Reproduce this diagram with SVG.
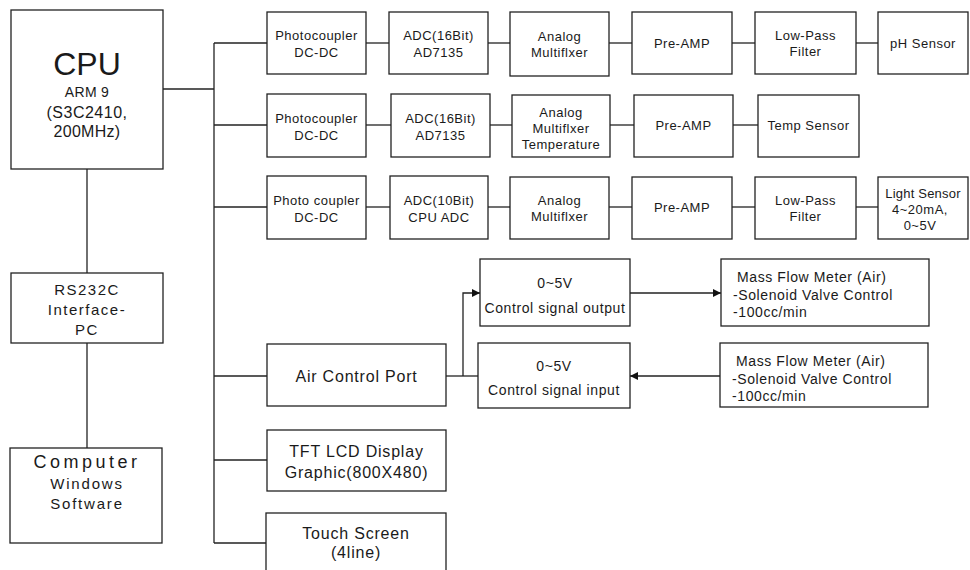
<svg xmlns="http://www.w3.org/2000/svg" width="970" height="570" viewBox="0 0 970 570">
<defs>
<marker id="arr" viewBox="0 0 10 10" refX="10" refY="5" markerWidth="9" markerHeight="8" markerUnits="userSpaceOnUse" orient="auto">
<path d="M0,0 L10,5 L0,10 z" fill="#111"/>
</marker>
<style>
rect{fill:#fff;stroke:#222;stroke-width:1.3}
.c line,.c path{stroke:#222;stroke-width:1.3;fill:none}
text{font-family:"Liberation Sans",Arial,sans-serif;fill:#1a1a1a;text-anchor:middle}
.s{font-size:13px;letter-spacing:0.5px}
.m{font-size:14px;letter-spacing:0.6px}
.l{font-size:16px;letter-spacing:0.8px}
.lt{text-anchor:start}
</style>
</defs>
<rect x="0" y="0" width="970" height="570" style="fill:#fff;stroke:none"/>
<g class="c" id="connectors">
<line x1="163" y1="89" x2="214" y2="89"/>
<line x1="214" y1="43" x2="214" y2="543"/>
<line x1="214" y1="43" x2="267" y2="43"/>
<line x1="214" y1="125" x2="267" y2="125"/>
<line x1="214" y1="207" x2="267" y2="207"/>
<line x1="214" y1="376" x2="267" y2="376"/>
<line x1="214" y1="460" x2="267" y2="460"/>
<line x1="214" y1="543" x2="266" y2="543"/>
<line x1="87" y1="169" x2="87" y2="273"/>
<line x1="87" y1="343" x2="87" y2="448"/>
<line x1="366" y1="43" x2="389" y2="43"/>
<line x1="488" y1="43" x2="510" y2="43"/>
<line x1="609" y1="43" x2="632" y2="43"/>
<line x1="732" y1="43" x2="755" y2="43"/>
<line x1="856" y1="43" x2="878" y2="43"/>
<line x1="366" y1="125" x2="391" y2="125"/>
<line x1="490" y1="125" x2="512" y2="125"/>
<line x1="610" y1="125" x2="634" y2="125"/>
<line x1="733" y1="125" x2="758" y2="125"/>
<line x1="366" y1="207" x2="390" y2="207"/>
<line x1="488" y1="207" x2="510" y2="207"/>
<line x1="609" y1="207" x2="632" y2="207"/>
<line x1="732" y1="207" x2="755" y2="207"/>
<line x1="856" y1="207" x2="878" y2="207"/>
<line x1="446" y1="376" x2="478" y2="376"/>
<path d="M463,376 V293 H480" marker-end="url(#arr)"/>
<line x1="630" y1="293" x2="721" y2="293" marker-end="url(#arr)"/>
<line x1="720" y1="376" x2="630" y2="376" marker-end="url(#arr)"/>
</g>
<g id="cpu"><rect x="11" y="10" width="152" height="159"/>
<text x="87" y="75" style="font-size:32px">CPU</text>
<text x="87" y="97" style="font-size:14px;letter-spacing:0.3px">ARM 9</text>
<text x="87" y="118" style="font-size:16px;letter-spacing:0.5px">(S3C2410,</text>
<text x="87" y="137" style="font-size:16px;letter-spacing:0.3px">200MHz)</text></g>
<g id="rs232c"><rect x="11" y="273" width="152" height="70"/>
<text x="87" y="295" style="font-size:15px;letter-spacing:1.5px">RS232C</text>
<text x="87" y="315" style="font-size:15px;letter-spacing:1.5px">Interface-</text>
<text x="87" y="335" style="font-size:15px;letter-spacing:1.5px">PC</text></g>
<g id="computer"><rect x="10" y="448" width="152" height="95"/>
<text x="87" y="468" style="font-size:18px;letter-spacing:3.5px">Computer</text>
<text x="87" y="489" style="font-size:15px;letter-spacing:1.8px">Windows</text>
<text x="87" y="509" style="font-size:15px;letter-spacing:1.8px">Software</text></g>

<g id="pc1"><rect x="267" y="12" width="99" height="62"/>
<text class="s" x="316.5" y="40">Photocoupler</text><text class="s" x="316.5" y="57">DC-DC</text></g>
<g id="adc1"><rect x="389" y="12" width="99" height="62"/>
<text class="s" x="438.5" y="40">ADC(16Bit)</text><text class="s" x="438.5" y="57">AD7135</text></g>
<g id="mux1"><rect x="510" y="12" width="99" height="64"/>
<text class="s" x="559.5" y="41">Analog</text><text class="s" x="559.5" y="57">Multiflxer</text></g>
<g id="amp1"><rect x="632" y="12" width="100" height="62"/>
<text class="s" x="682" y="48">Pre-AMP</text></g>
<g id="lpf1"><rect x="755" y="12" width="101" height="62"/>
<text class="s" x="805.5" y="40">Low-Pass</text><text class="s" x="805.5" y="56">Filter</text></g>
<g id="ph"><rect x="878" y="12" width="90" height="62"/>
<text class="s" x="923" y="48">pH Sensor</text></g>

<g id="pc2"><rect x="267" y="94" width="99" height="63"/>
<text class="s" x="316.5" y="123">Photocoupler</text><text class="s" x="316.5" y="140">DC-DC</text></g>
<g id="adc2"><rect x="391" y="94" width="99" height="63"/>
<text class="s" x="440.5" y="123">ADC(16Bit)</text><text class="s" x="440.5" y="140">AD7135</text></g>
<g id="mux2"><rect x="512" y="95" width="98" height="62"/>
<text class="s" x="561" y="117">Analog</text><text class="s" x="561" y="133">Multiflxer</text><text class="s" x="561" y="149">Temperature</text></g>
<g id="amp2"><rect x="634" y="95" width="99" height="62"/>
<text class="s" x="683.5" y="130">Pre-AMP</text></g>
<g id="temp"><rect x="758" y="95" width="101" height="62"/>
<text class="s" x="808.5" y="130">Temp Sensor</text></g>

<g id="pc3"><rect x="267" y="176" width="99" height="63"/>
<text class="s" x="316.5" y="205">Photo coupler</text><text class="s" x="316.5" y="222">DC-DC</text></g>
<g id="adc3"><rect x="390" y="176" width="98" height="63"/>
<text class="s" x="439" y="205">ADC(10Bit)</text><text class="s" x="439" y="222">CPU ADC</text></g>
<g id="mux3"><rect x="510" y="177" width="99" height="62"/>
<text class="s" x="559.5" y="205">Analog</text><text class="s" x="559.5" y="221">Multiflxer</text></g>
<g id="amp3"><rect x="632" y="177" width="100" height="62"/>
<text class="s" x="682" y="212">Pre-AMP</text></g>
<g id="lpf3"><rect x="755" y="177" width="101" height="62"/>
<text class="s" x="805.5" y="205">Low-Pass</text><text class="s" x="805.5" y="221">Filter</text></g>
<g id="light"><rect x="878" y="177" width="90" height="62"/>
<text class="s" x="923" y="198" style="letter-spacing:0.2px">Light Sensor</text><text class="s" x="920" y="214">4~20mA,</text><text class="s" x="920" y="230">0~5V</text></g>

<g id="air"><rect x="267" y="344" width="179" height="62"/>
<text class="l" x="356.5" y="382">Air Control Port</text></g>
<g id="tft"><rect x="267" y="430" width="179" height="61"/>
<text class="l" x="356.5" y="457">TFT LCD Display</text><text class="l" x="356.5" y="478">Graphic(800X480)</text></g>
<g id="touch"><rect x="266" y="513" width="180" height="70"/>
<text class="l" x="356" y="539">Touch Screen</text><text class="l" x="356" y="558">(4line)</text></g>

<g id="out"><rect x="480" y="259" width="150" height="67"/>
<text class="m" x="555" y="288">0~5V</text><text class="m" x="555" y="313">Control signal output</text></g>
<g id="in"><rect x="478" y="343" width="152" height="65"/>
<text class="m" x="554" y="371">0~5V</text><text class="m" x="554" y="395">Control signal input</text></g>
<g id="mfm1"><rect x="721" y="259" width="208" height="67"/>
<text class="m lt" x="737" y="282">Mass Flow Meter (Air)</text><text class="m lt" x="733" y="300">-Solenoid Valve Control</text><text class="m lt" x="733" y="317">-100cc/min</text></g>
<g id="mfm2"><rect x="720" y="343" width="208" height="64"/>
<text class="m lt" x="736" y="366">Mass Flow Meter (Air)</text><text class="m lt" x="732" y="384">-Solenoid Valve Control</text><text class="m lt" x="732" y="401">-100cc/min</text></g>
</svg>
